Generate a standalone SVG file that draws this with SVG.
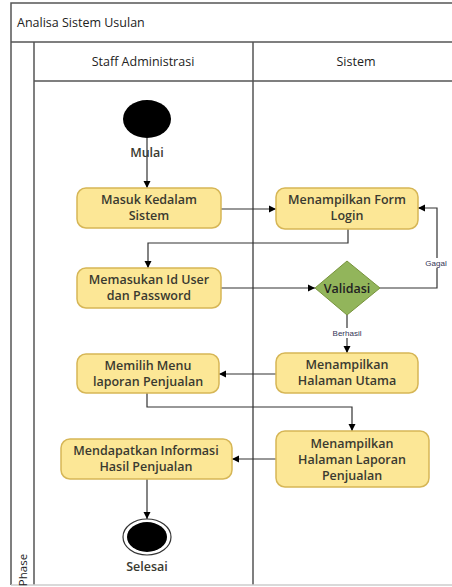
<svg xmlns="http://www.w3.org/2000/svg" width="452" height="587" viewBox="0 0 452 587">
<style>
.frame{fill:none;stroke:#555;stroke-width:1.5}
.box{fill:#fce796;stroke:#d6b656;stroke-width:1.5}
.dia{fill:#92b55b;stroke:#77933c;stroke-width:1}
.t{font-family:"Open Sans","Liberation Sans",sans-serif;font-size:12.5px;font-weight:600;fill:#3a3a30;text-anchor:middle}
.h{font-family:"Open Sans","Liberation Sans",sans-serif;font-size:12.5px;fill:#222;text-anchor:middle}
.s{font-family:"Liberation Sans",sans-serif;font-size:8px;fill:#335;text-anchor:middle}
.c{fill:none;stroke:#333;stroke-width:1.2}
</style>
<defs>
<marker id="a" markerWidth="8" markerHeight="8" refX="7" refY="4" orient="auto" markerUnits="userSpaceOnUse">
<path d="M0,0.5 L7,4 L0,7.5 z" fill="#000"/>
</marker>
</defs>
<rect width="452" height="587" fill="#fff"/>
<g id="frame">
<path class="frame" d="M11,585 L11,3 L452,3 M11,42 L452,42 M34,42 L34,585 M34,81 L452,81 M253,42 L253,585"/>
<path d="M11,585 L452,585" stroke="#ccc" stroke-width="1.5" fill="none"/>
<text x="17" y="27" class="h" style="text-anchor:start">Analisa Sistem Usulan</text>
<text x="143" y="66" class="h">Staff Administrasi</text>
<text x="356" y="66" class="h">Sistem</text>
<text x="27" y="570" class="h" transform="rotate(-90 27 570)" style="text-anchor:middle;font-size:11.5px">Phase</text>
</g>
<g id="connectors">
<path class="c" d="M147,138 L147,188" marker-end="url(#a)"/>
<path class="c" d="M221,209 L276,209" marker-end="url(#a)"/>
<path class="c" d="M348,229 L348,243 L148,243 L148,268" marker-end="url(#a)"/>
<path class="c" d="M221,288 L315,288" marker-end="url(#a)"/>
<path class="c" d="M380,288 L437,288 L437,208 L418,208" marker-end="url(#a)"/>
<path class="c" d="M347,315 L347,353" marker-end="url(#a)"/>
<path class="c" d="M276,374 L219,374" marker-end="url(#a)"/>
<path class="c" d="M147,393 L147,407 L352,407 L352,431" marker-end="url(#a)"/>
<path class="c" d="M276,459 L232,459" marker-end="url(#a)"/>
<path class="c" d="M147,479 L147,519" marker-end="url(#a)"/>
<rect x="423" y="258" width="28" height="10" fill="#fff"/>
<text x="436" y="266" class="s">Gagal</text>
<rect x="330" y="328" width="34" height="10" fill="#fff"/>
<text x="347" y="336" class="s">Berhasil</text>
</g>
<g id="start">
<ellipse cx="147" cy="119" rx="24" ry="19" fill="#000"/>
<text x="147" y="157" class="t">Mulai</text>
</g>
<g id="masuk">
<rect class="box" x="77" y="188" width="144" height="40" rx="9"/>
<text x="149" y="204" class="t">Masuk Kedalam</text>
<text x="149" y="220" class="t">Sistem</text>
</g>
<g id="formlogin">
<rect class="box" x="276" y="188" width="142" height="41" rx="9"/>
<text x="347" y="204" class="t">Menampilkan Form</text>
<text x="347" y="220" class="t">Login</text>
</g>
<g id="memasukan">
<rect class="box" x="77" y="268" width="144" height="40" rx="9"/>
<text x="149" y="284" class="t">Memasukan Id User</text>
<text x="149" y="300" class="t">dan Password</text>
</g>
<g id="validasi">
<path class="dia" d="M347,261 L380,288 L347,315 L315,288 z"/>
<text x="347" y="293" class="t" style="fill:#222">Validasi</text>
</g>
<g id="utama">
<rect class="box" x="276" y="353" width="142" height="40" rx="9"/>
<text x="347" y="369" class="t">Menampilkan</text>
<text x="347" y="385" class="t">Halaman Utama</text>
</g>
<g id="memilih">
<rect class="box" x="77" y="354" width="142" height="39" rx="9"/>
<text x="148" y="370" class="t">Memilih Menu</text>
<text x="148" y="386" class="t">laporan Penjualan</text>
</g>
<g id="laporan">
<rect class="box" x="276" y="431" width="153" height="56" rx="9"/>
<text x="352" y="448" class="t">Menampilkan</text>
<text x="352" y="464" class="t">Halaman Laporan</text>
<text x="352" y="480" class="t">Penjualan</text>
</g>
<g id="mendapatkan">
<rect class="box" x="61" y="439" width="171" height="40" rx="9"/>
<text x="146" y="455" class="t">Mendapatkan Informasi</text>
<text x="146" y="471" class="t">Hasil Penjualan</text>
</g>
<g id="end">
<ellipse cx="147" cy="537" rx="24" ry="18" fill="#fff" stroke="#333" stroke-width="1.2"/>
<ellipse cx="147" cy="537" rx="20" ry="15" fill="#000"/>
<text x="147" y="571" class="t">Selesai</text>
</g>
</svg>
